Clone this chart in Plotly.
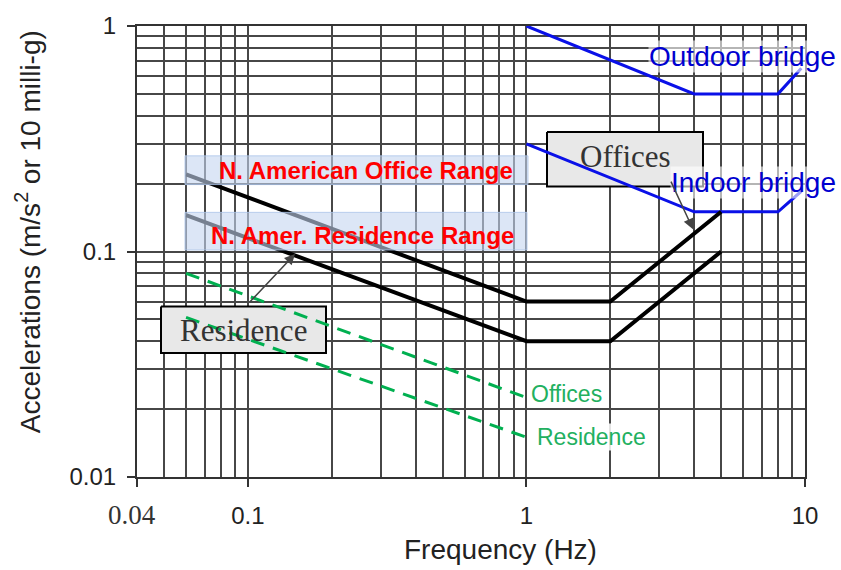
import math
import plotly.graph_objects as go

# ---------------- data ----------------
office_f = [0.06, 1, 2, 5]
office_a = [0.22, 0.06, 0.06, 0.15]

residence_f = [0.06, 1, 2, 5]
residence_a = [0.145, 0.04, 0.04, 0.10]

outdoor_f = [1, 4, 8, 9.7]
outdoor_a = [1.0, 0.5, 0.5, 0.65]

indoor_f = [1, 4, 8, 9.7]
indoor_a = [0.30, 0.15, 0.15, 0.185]

iso_office_f = [0.06, 1]
iso_office_a = [0.08, 0.0225]

iso_res_f = [0.06, 1]
iso_res_a = [0.051, 0.015]

x_tickvals = [0.04, 0.1, 1, 10]
x_ticktext = ["", "0.1", "1", "10"]
first_x_label = "0.04"
y_tickvals = [0.01, 0.1, 1]
y_ticktext = ["0.01", "0.1", "1"]
x_minor = [0.05, 0.06, 0.07, 0.08, 0.09, 0.2, 0.3, 0.4, 0.5, 0.6, 0.7, 0.8, 0.9,
           2, 3, 4, 5, 6, 7, 8, 9]
y_minor = [0.02, 0.03, 0.04, 0.05, 0.06, 0.07, 0.08, 0.09,
           0.2, 0.3, 0.4, 0.5, 0.6, 0.7, 0.8, 0.9]

# ---------------- layout geometry ----------------
W, H = 841, 570
L, R, T, B = 137, 36, 22, 93
PW, PH = W - L - R, H - T - B
XR = [math.log10(0.04), 1.0]
YR = [-2.0, 0.0]


def px(x):
    return (x - L) / PW


def py(y):
    return (H - B - y) / PH


def xd(x):  # pixel -> data (frequency) for decorative boxes
    return 10 ** (XR[0] + px(x) * (XR[1] - XR[0]))


def yd(y):
    return 10 ** (YR[0] + py(y) * (YR[1] - YR[0]))


SANS = "Liberation Sans, Arial, sans-serif"
SERIF = "Liberation Serif, Times New Roman, serif"
BLUE_LINE = "#0a10e8"
BLUE_TXT = "#0000d0"
GREEN_LINE = "#00b050"
GREEN_TXT = "#22b060"

fig = go.Figure()

# grey label boxes: drawn as filled traces so they cover the grid but stay under the curves
for (x0, y0, x1, y1) in [(547, 129, 703, 184), (161, 305, 326, 352)]:
    fig.add_trace(go.Scatter(x=[xd(x0), xd(x1), xd(x1), xd(x0), xd(x0)],
                             y=[yd(y0), yd(y0), yd(y1), yd(y1), yd(y0)],
                             mode="lines", fill="toself", fillcolor="#e8e8e8",
                             line=dict(color="black", width=2),
                             hoverinfo="skip", showlegend=False))

fig.add_trace(go.Scatter(x=outdoor_f, y=outdoor_a, mode="lines",
                         line=dict(color=BLUE_LINE, width=3), showlegend=False))
fig.add_trace(go.Scatter(x=indoor_f, y=indoor_a, mode="lines",
                         line=dict(color=BLUE_LINE, width=3), showlegend=False))
fig.add_trace(go.Scatter(x=office_f, y=office_a, mode="lines",
                         line=dict(color="black", width=4), showlegend=False))
fig.add_trace(go.Scatter(x=residence_f, y=residence_a, mode="lines",
                         line=dict(color="black", width=4), showlegend=False))
fig.add_trace(go.Scatter(x=iso_office_f, y=iso_office_a, mode="lines",
                         line=dict(color=GREEN_LINE, width=3, dash="14px,9px"), showlegend=False))
fig.add_trace(go.Scatter(x=iso_res_f, y=iso_res_a, mode="lines",
                         line=dict(color=GREEN_LINE, width=3, dash="14px,9px"), showlegend=False))

shapes = []
# translucent blue range boxes (above traces)
for (x0, y0, x1, y1) in [(185, 153, 528, 182), (185, 210, 527, 248)]:
    shapes.append(dict(type="rect", xref="paper", yref="paper",
                       x0=px(x0), x1=px(x1), y0=py(y1), y1=py(y0),
                       fillcolor="rgba(196,214,240,0.6)",
                       line=dict(color="rgba(170,195,232,0.8)", width=1),
                       layer="above"))

annotations = []


def label(text, x, y, size, color, family=SANS, bg=None, bold=False):
    annotations.append(dict(text=("<b>%s</b>" % text) if bold else text,
                            xref="paper", yref="paper", x=px(x), y=py(y),
                            xanchor="center", yanchor="middle", showarrow=False,
                            font=dict(family=family, size=size, color=color),
                            bgcolor=bg, borderpad=0))


label("N. American Office Range", 366, 168, 24, "#ff0000", bold=True)
label("N. Amer. Residence Range", 362, 233, 24, "#ff0000", bold=True)
label("Offices", 625, 154, 31, "#333333", family=SERIF)
label("Residence", 243, 329, 31, "#333333", family=SERIF)
label("Outdoor bridge", 742, 53, 28, BLUE_TXT, bg="rgba(255,255,255,0.6)")
label("Indoor bridge", 753, 180, 28, BLUE_TXT, bg="rgba(255,255,255,0.6)")
label("Offices", 566, 393, 23, GREEN_TXT, bg="rgba(255,255,255,0.85)")
label("Residence", 591, 437, 23, GREEN_TXT, bg="rgba(255,255,255,0.85)")
label(first_x_label, 132, 515, 27, "#333333", family=SERIF)

# arrows from boxes to curves
annotations.append(dict(xref="paper", yref="paper", x=px(693), y=py(227), text=" ",
                        showarrow=True, ax=-25, ay=-54, arrowhead=2, arrowsize=1.4,
                        arrowwidth=1.5, arrowcolor="#444444"))
annotations.append(dict(xref="paper", yref="paper", x=px(295), y=py(252), text=" ",
                        showarrow=True, ax=-48, ay=51, arrowhead=2, arrowsize=1.4,
                        arrowwidth=1.5, arrowcolor="#444444"))

# axis titles
annotations.append(dict(text="Frequency (Hz)", xref="paper", yref="paper",
                        x=px(500), y=py(550), xanchor="center", yanchor="middle",
                        showarrow=False, font=dict(family=SANS, size=28, color="#222222")))
annotations.append(dict(text="Accelerations (m/s<sup>2</sup> or 10 milli-g)",
                        xref="paper", yref="paper", x=px(28), y=py(230),
                        xanchor="center", yanchor="middle", textangle=-90,
                        showarrow=False, font=dict(family=SANS, size=28, color="#222222")))

GRID = "#474747"

fig.update_layout(
    width=W, height=H,
    margin=dict(l=L, r=R, t=T, b=B),
    paper_bgcolor="white", plot_bgcolor="white",
    shapes=shapes, annotations=annotations,
    showlegend=False,
    xaxis=dict(type="log", range=XR,
               tickmode="array", tickvals=x_tickvals, ticktext=x_ticktext,
               ticks="outside", ticklen=8, tickwidth=1.5, tickcolor="#333333",
               ticklabelstandoff=8,
               tickfont=dict(family=SANS, size=24, color="#222222"),
               showgrid=True, gridcolor=GRID, gridwidth=1.5,
               minor=dict(tickvals=x_minor, showgrid=True, gridcolor=GRID,
                          gridwidth=1.5, ticks=""),
               showline=True, linecolor="#333333", linewidth=2, mirror=True,
               zeroline=False, fixedrange=True),
    yaxis=dict(type="log", range=YR,
               tickmode="array", tickvals=y_tickvals, ticktext=y_ticktext,
               ticks="outside", ticklen=8, tickwidth=1.5, tickcolor="#333333",
               ticklabelstandoff=6,
               tickfont=dict(family=SANS, size=24, color="#222222"),
               showgrid=True, gridcolor=GRID, gridwidth=1.5,
               minor=dict(tickvals=y_minor, showgrid=True, gridcolor=GRID,
                          gridwidth=1.5, ticks=""),
               showline=True, linecolor="#333333", linewidth=2, mirror=True,
               zeroline=False, fixedrange=True),
)

fig.write_html("out.html")
